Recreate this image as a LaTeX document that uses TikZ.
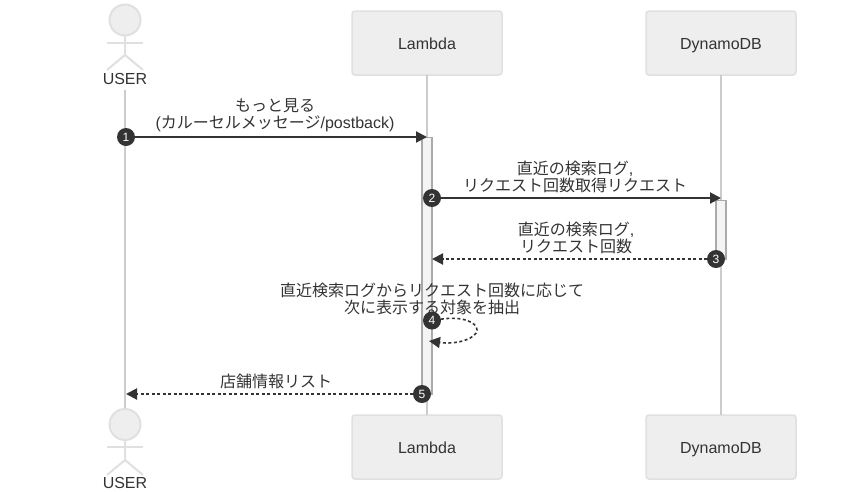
\documentclass[tikz,border=0pt]{standalone}
\usepackage{fontspec}
\setmainfont{Liberation Sans}
\newfontfamily\cjk{Noto Sans CJK JP}
\usetikzlibrary{arrows.meta}
\definecolor{ink}{HTML}{333333}
\definecolor{life}{HTML}{CCCCCC}
\definecolor{boxfill}{HTML}{EEEEEE}
\definecolor{boxline}{HTML}{E0E0E0}
\definecolor{actfill}{HTML}{F4F4F4}
\definecolor{actline}{HTML}{AAAAAA}
\newcommand{\J}[1]{{\cjk #1}}
\tikzset{
  x=1pt,y=-1pt,
  every node/.style={inner sep=0pt,outer sep=0pt,text=ink,font=\fontsize{16}{17}\selectfont},
  participant/.style={draw=boxline,fill=boxfill,line width=1.5pt,rounded corners=3pt,minimum width=150pt,minimum height=64pt,text height=15pt,text depth=2pt},
  lifeline/.style={draw=life,line width=2pt},
  stick/.style={draw=boxline,line width=2pt},
  activation/.style={draw=actline,fill=actfill,line width=1.5pt,minimum width=10pt,anchor=north},
  badge/.style={circle,fill=ink,minimum size=18pt,text=white,font=\fontsize{12}{12}\selectfont},
  msg/.style={draw=ink,line width=2pt,-{Triangle[length=11pt,width=11pt,color=ink]}},
  reply/.style={msg,dash pattern=on 3pt off 2.5pt},
  caption/.style={align=center,anchor=base}
}
\begin{document}
\begin{tikzpicture}
\useasboundingbox (0,0) rectangle (846,491);
% lifelines
\coordinate (utop) at (125,90); \coordinate (ubot) at (125,408);
\draw[lifeline] (utop) -- (ubot);
\node[participant] (lt) at (427,43) {Lambda};
\node[participant] (lb) at (427,447) {Lambda};
\node[participant] (dt) at (721,43) {DynamoDB};
\node[participant] (db) at (721,447) {DynamoDB};
\draw[lifeline] (lt) -- (lb);
\draw[lifeline] (dt) -- (db);
% actors
\node[stick,circle,fill=boxfill,minimum size=31pt] (uh) at (125,20) {};
\draw[stick] (107,43) -- (143,43);
\draw[stick] (uh.south) -- (125,55) -- (107,70);
\draw[stick] (125,55) -- (143,70);
\node (ul) at (125,79) {USER};
\node[stick,circle,fill=boxfill,minimum size=31pt] (vh) at (125,424.5) {};
\draw[stick] (107,447) -- (143,447);
\draw[stick] (vh.south) -- (125,460) -- (107,475);
\draw[stick] (125,460) -- (143,475);
\node (vl) at (125,483) {USER};
% activations
\node[activation,minimum height=256.5pt] (al) at (427,137.5) {};
\node[activation,minimum height=59pt] (ad) at (721,200.5) {};
% messages
\node[badge] (b1) at (126,137) {1};
\coordinate (e1) at (427,137);
\draw[msg] (b1) -- (e1);
\node[badge] (b2) at (432,198) {2};
\coordinate (e2) at (721,198);
\draw[msg] (b2) -- (e2);
\node[badge] (b3) at (716,259) {3};
\coordinate (e3) at (432,259);
\draw[reply] (b3) -- (e3);
\node[badge] (b5) at (422,394) {5};
\coordinate (e5) at (126,394);
\draw[reply] (b5) -- (e5);
\node[badge] (b4) at (432,320.5) {4};
\coordinate (e4) at (429,341);
\draw[reply,line width=1.6pt] (b4) .. controls (462,316) and (477,322) .. (477,330) .. controls (477,338) and (458,345) .. (e4);
% captions
\node[caption] (t1a) at (275,111) {\J{もっと見る}};
\node[caption] (t1b) at (275,128) {(\J{カルーセルメッセージ}/postback)};
\node[caption] (t2a) at (575,174) {\J{直近の検索ログ},};
\node[caption] (t2b) at (575,191) {\J{リクエスト回数取得リクエスト}};
\node[caption] (t3a) at (576,235) {\J{直近の検索ログ},};
\node[caption] (t3b) at (576,252) {\J{リクエスト回数}};
\node[caption] (t4a) at (432,296) {\J{直近検索ログからリクエスト回数に応じて}};
\node[caption] (t4b) at (432,313) {\J{次に表示する対象を抽出}};
\node[caption] (t5) at (276,387) {\J{店舗情報リスト}};
\end{tikzpicture}
\end{document}
